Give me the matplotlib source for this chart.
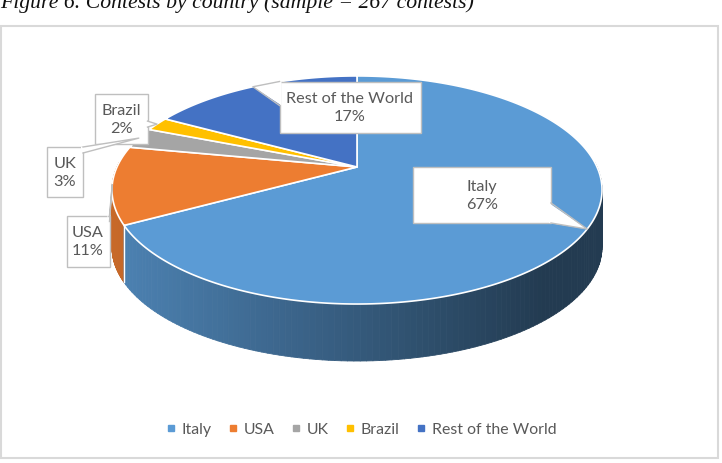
import numpy as np
import matplotlib
matplotlib.use("Agg")
import matplotlib.pyplot as plt
from matplotlib.patches import Polygon, Rectangle
from matplotlib.collections import PolyCollection
from matplotlib.lines import Line2D

# data
countries = ['Italy', 'USA', 'UK', 'Brazil', 'Rest of the World']
shares = [67, 11, 3, 2, 17]
colors = ['#5B9BD5', '#ED7D31', '#A5A5A5', '#FFC000', '#4472C4']
title = 'Figure 6. Contests by country (sample = 267 contests)'

# pie geometry in pixels (axes = whole figure, y down)
cx, cy = 357, 168
A, B = 240, 109.4
persp = 0.2016
depth = 57


def proj(t):
    t = np.asarray(t)
    f = 1.0 / (1.0 + persp * np.sin(t))
    return cx + A * np.cos(t) * f, cy - B * np.sin(t) * f


def shade(col, x):
    rgb = np.array(matplotlib.colors.to_rgb(col))
    k = 0.84 - 0.46 * np.clip((x - 115) / 430.0, 0, 1)
    return tuple(rgb * k)


fig = plt.figure(figsize=(7.22, 4.64), dpi=100)
ax = fig.add_axes([0, 0, 1, 1])
ax.set_xlim(0, 722)
ax.set_ylim(464, 0)
ax.axis('off')

# title (clipped at top like the source)
ax.text(0, 8, title, family='Liberation Serif', style='italic', fontsize=15.7,
        va='baseline', ha='left', color='#111111')

# chart frame
ax.add_patch(Rectangle((0.5, 27), 717.5, 432, fill=False, edgecolor='#d9d9d9', lw=1.5))

# slice angles: start at 12 o'clock, clockwise
fr = np.array(shares) / np.sum(shares)
bounds = np.concatenate([[0], np.cumsum(fr)])
t_bounds = np.pi / 2 - 2 * np.pi * bounds

# side strips
strips, scol, sdepth = [], [], []
for i in range(len(shares)):
    ts = np.linspace(t_bounds[i], t_bounds[i + 1], 200)
    for a, b in zip(ts[:-1], ts[1:]):
        m = 0.5 * (a + b)
        if np.sin(m) > 0.05:
            continue
        xa, ya = proj(a)
        xb, yb = proj(b)
        strips.append([(xa, ya), (xb, yb), (xb, yb + depth), (xa, ya + depth)])
        scol.append(shade(colors[i], 0.5 * (xa + xb)))
        sdepth.append(np.sin(m))
order = np.argsort(sdepth)[::-1]
pc = PolyCollection([strips[j] for j in order], facecolors=[scol[j] for j in order],
                    edgecolors=[scol[j] for j in order], linewidths=0.6)
ax.add_collection(pc)

# white seams on the side at slice boundaries
for tb in t_bounds:
    if np.sin(tb) < 0:
        x0, y0 = proj(tb)
        ax.plot([x0, x0], [y0, y0 + depth], color='white', lw=1.0)

# top faces
for i in range(len(shares)):
    ts = np.linspace(t_bounds[i], t_bounds[i + 1], 300)
    xs, ys = proj(ts)
    pts = [(cx, cy)] + list(zip(xs, ys))
    ax.add_patch(Polygon(pts, closed=True, facecolor=colors[i], edgecolor='white', lw=1.2))

# callout labels
label_pos = {'Italy': (482, 196, 138, 56), 'USA': (88, 242, 43, 51),
             'UK': (65, 173, 36, 50), 'Brazil': (121, 120, 53, 50),
             'Rest of the World': (350, 108, 141, 51)}
base_w = {'Italy': 10, 'USA': 3, 'UK': 3, 'Brazil': 3, 'Rest of the World': 12}
for i, name in enumerate(countries):
    tm = 0.5 * (t_bounds[i] + t_bounds[i + 1])
    tx, ty = proj(tm)
    bx, by, bw, bh = label_pos[name]
    x0, x1, y0, y1 = bx - bw / 2, bx + bw / 2, by - bh / 2, by + bh / 2
    ax.add_patch(Rectangle((x0, y0), bw, bh, facecolor='white', edgecolor='#bfbfbf', lw=1.0, zorder=5))
    # wedge base point on box edge nearest the tip
    px = np.clip(tx, x0, x1)
    py = np.clip(ty, y0, y1)
    w = base_w[name]
    if px in (x0, x1):
        py = np.clip(py, y0 + w, y1 - w)
        b1, b2 = (px, py - w), (px, py + w)
        ix = px + (2 if px == x0 else -2)
        c1, c2 = (ix, py - w), (ix, py + w)
    else:
        px = np.clip(px, x0 + w, x1 - w)
        b1, b2 = (px - w, py), (px + w, py)
        iy = py + (2 if py == y0 else -2)
        c1, c2 = (px - w, iy), (px + w, iy)
    ax.add_patch(Polygon([c1, c2, (tx, ty)], closed=True, facecolor='white',
                         edgecolor='none', zorder=6))
    ax.plot([b1[0], tx, b2[0]], [b1[1], ty, b2[1]], color='#bfbfbf', lw=1.0, zorder=6)
    ax.text(bx, by, f'{name}\n{shares[i]}%', ha='center', va='center', fontsize=11.7,
            family='Lato', color='#595959', linespacing=1.45, zorder=7)

# legend
handles = [Line2D([], [], marker='s', ls='', color=c, markersize=4.5) for c in colors]
leg = ax.legend(handles, countries, loc='center', bbox_to_anchor=(0.5, 1 - 430 / 464),
                ncol=5, frameon=False, handlelength=0.7, handletextpad=0.32,
                columnspacing=1.0, prop={'family': 'Lato', 'size': 11.4})
for t in leg.get_texts():
    t.set_color('#595959')

fig.savefig('out.png', dpi=100)
